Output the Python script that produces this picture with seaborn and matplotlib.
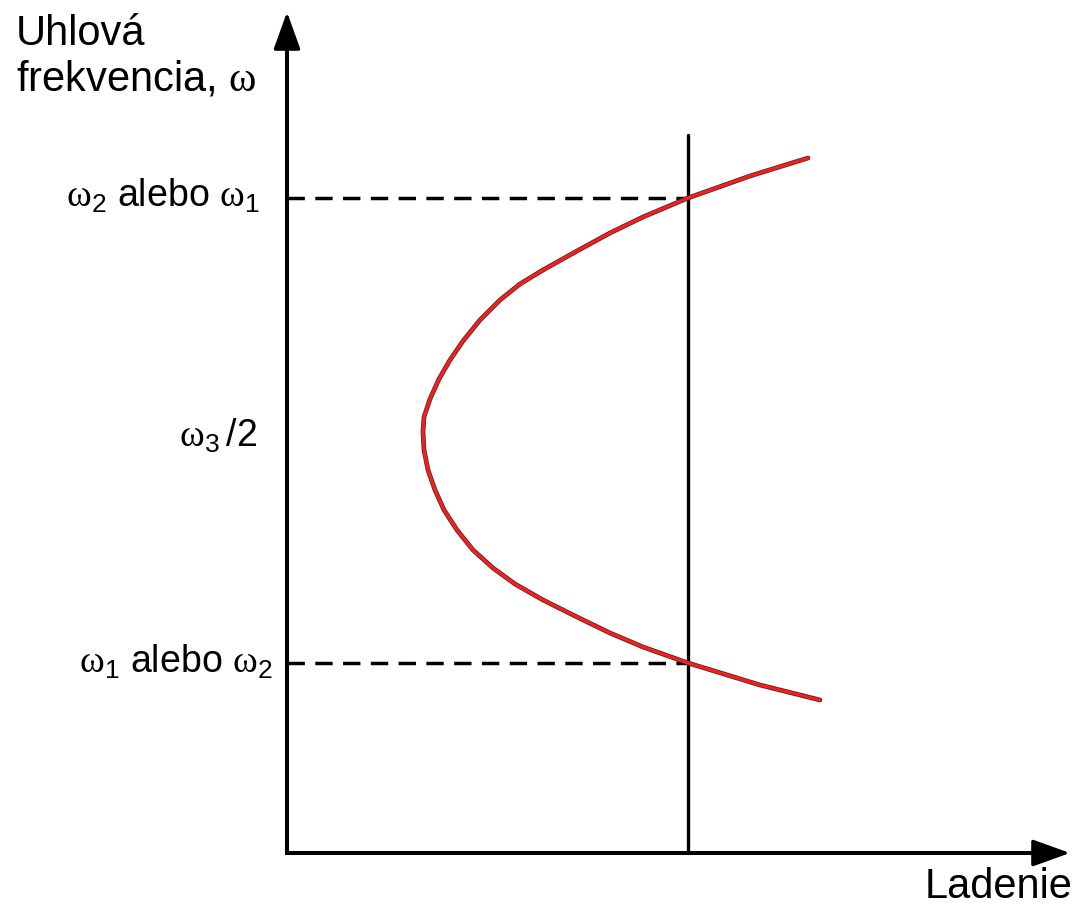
import matplotlib
matplotlib.use("Agg")
import matplotlib.pyplot as plt
import matplotlib.patheffects as pe
import seaborn as sns
import pandas as pd

# Resonance curve: angular frequency branches vs. tuning (schematic units),
# listed from the lower branch end, through the turning point, to the upper end.
tuning = [5.33, 4.73, 4.01, 3.56, 3.23, 2.90, 2.56, 2.28, 2.06, 1.86, 1.70, 1.57,
          1.48, 1.41, 1.37,
          1.36,
          1.37, 1.43, 1.52, 1.63, 1.76, 1.93, 2.13, 2.33, 2.56, 2.90, 3.23, 3.56,
          4.01, 4.63, 5.21]
frequency = [1.53, 1.68, 1.90, 2.06, 2.20, 2.36, 2.53, 2.69, 2.85, 3.03, 3.23, 3.43,
             3.63, 3.83, 4.03,
             4.21,
             4.36, 4.54, 4.74, 4.93, 5.12, 5.33, 5.53, 5.69, 5.83, 6.02, 6.20, 6.36,
             6.55, 6.77, 6.95]

operating_tuning = 4.01
omega_high = 6.55
omega_low = 1.90
omega_mid = 4.21
marker_top = 7.18

level_labels = [r"$\mathrm{\omega}_{\mathsf{2}}$ alebo $\mathrm{\omega}_{\mathsf{1}}$",
                r"$\mathrm{\omega}_{\mathsf{3}}\,$/2",
                r"$\mathrm{\omega}_{\mathsf{1}}$ alebo $\mathrm{\omega}_{\mathsf{2}}$"]
y_title = ["Uhlová", r"frekvencia, $\mathrm{\omega}$"]
x_title = "Ladenie"

sns.set_theme(style="white")
plt.rcParams["font.family"] = ["Liberation Sans", "DejaVu Sans"]
plt.rcParams["mathtext.fontset"] = "custom"
plt.rcParams["mathtext.rm"] = "Liberation Serif"
plt.rcParams["mathtext.sf"] = "Liberation Sans"
plt.rcParams["text.color"] = "black"

fig = plt.figure(figsize=(10.8, 9.08), dpi=100)
ax = fig.add_axes([0, 0, 1, 1])
ax.set_xlim(-2.87, 7.93)
ax.set_ylim(-0.55, 8.53)
ax.axis("off")

# axes with arrow heads
x_end, y_end = 7.83, 8.41
ax.plot([0, 0, x_end - 0.25], [y_end - 0.25, 0, 0], color="black", linewidth=2.9,
        solid_joinstyle="miter", solid_capstyle="projecting")
arrow_style = "-|>,head_length=1.0,head_width=0.36"
for tip, base in (((0, y_end), (0, y_end - 0.3)), ((x_end, 0), (x_end - 0.3, 0))):
    ax.annotate("", xy=tip, xytext=base,
                arrowprops=dict(arrowstyle=arrow_style, color="black", lw=2.5,
                                mutation_scale=23, shrinkA=0, shrinkB=0))

# dashed frequency levels
for lvl in (omega_high, omega_low):
    sns.lineplot(x=[0, operating_tuning], y=[lvl, lvl], ax=ax, color="black",
                 linewidth=2.5, linestyle=(0, (5, 3)), estimator=None, sort=False)

# operating tuning line
sns.lineplot(x=[operating_tuning, operating_tuning], y=[0, marker_top], ax=ax,
             color="black", linewidth=2.4, estimator=None, sort=False)

# resonance curve
curve = pd.DataFrame({"tuning": tuning, "frequency": frequency})
sns.lineplot(data=curve, x="tuning", y="frequency", ax=ax, sort=False, estimator=None,
             color="#ff1a1a", linewidth=2.3, solid_joinstyle="round",
             path_effects=[pe.Stroke(linewidth=3.4, foreground="#333333"), pe.Normal()])

fs_lab = 27
ax.text(-0.27, omega_high - 0.09, level_labels[0], ha="right", va="baseline", fontsize=fs_lab)
ax.text(-0.30, omega_mid - 0.15, level_labels[1], ha="right", va="baseline", fontsize=fs_lab)
ax.text(-0.14, omega_low - 0.10, level_labels[2], ha="right", va="baseline", fontsize=fs_lab)

fs_title = 30
ax.text(-2.71, 8.08, y_title[0], ha="left", va="baseline", fontsize=fs_title)
ax.text(-2.71, 7.62, y_title[1], ha="left", va="baseline", fontsize=fs_title)
ax.text(7.86, -0.545, x_title, ha="right", va="bottom", fontsize=fs_title)

fig.savefig("out.png", dpi=100, facecolor="white")
